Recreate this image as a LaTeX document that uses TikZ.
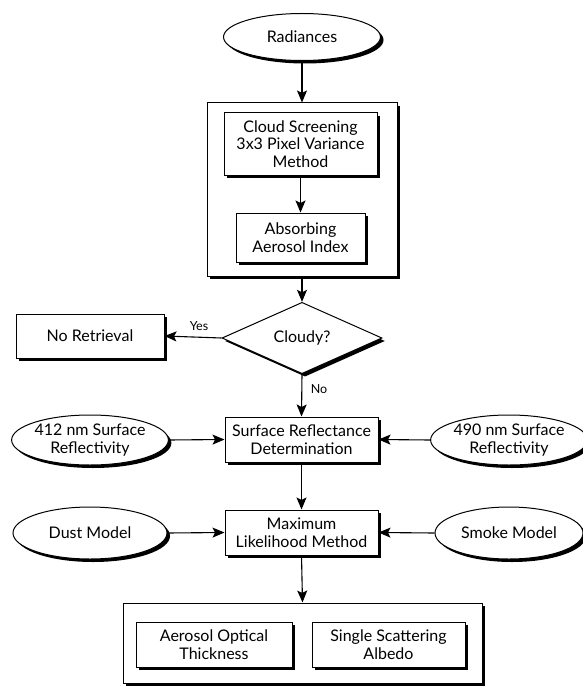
\documentclass[tikz,border=0pt]{standalone}
\usepackage{fontspec}
\setmainfont{Lato}
\usetikzlibrary{shapes.geometric,shadows,arrows.meta}
\tikzset{
  shd/.style={drop shadow={shadow xshift=3pt,shadow yshift=-3pt,fill=black,opacity=1}},
  base/.style={draw=black,line width=1pt,fill=white,inner sep=0pt,align=center,
    font=\fontsize{16}{17.5}\selectfont,shd},
  box/.style={base,rectangle},
  oval/.style={base,ellipse},
  dia/.style={base,diamond},
  lbl/.style={inner sep=0pt,font=\fontsize{12.5}{14}\selectfont},
  arr/.style={line width=1.1pt,-{Stealth[length=12pt,width=10pt,inset=2.5pt]}},
  ln/.style={line width=1pt}
}
\begin{document}
\begin{tikzpicture}[x=1pt,y=-1pt]
\useasboundingbox (0,0) rectangle (582,687);
\node[oval,minimum width=157pt,minimum height=47pt] (rad) at (302,37) {Radiances};
\node[box,minimum width=190pt,minimum height=173pt] (outer1) at (302,189.5) {};
\node[box,minimum width=153pt,minimum height=62pt] (cs) at (300.5,144) {Cloud Screening\\3x3 Pixel Variance\\Method};
\node[box,minimum width=129pt,minimum height=49pt] (aai) at (300.5,237.5) {Absorbing\\Aerosol Index};
\node[dia,minimum width=160pt,minimum height=59pt] (cloudy) at (302,338) {Cloudy?};
\node[box,minimum width=148pt,minimum height=44pt] (noret) at (90,336) {No Retrieval};
\node[oval,minimum width=154pt,minimum height=50pt] (r412) at (90,440) {412 nm Surface\\Reflectivity};
\node[box,minimum width=153pt,minimum height=45pt] (srd) at (301.5,439.5) {Surface Reflectance\\Determination};
\node[oval,minimum width=148pt,minimum height=50pt] (r490) at (509,440) {490 nm Surface\\Reflectivity};
\node[oval,minimum width=154pt,minimum height=52pt] (dust) at (90,533) {Dust Model};
\node[box,minimum width=153pt,minimum height=45pt] (mlm) at (301.5,532.5) {Maximum\\Likelihood Method};
\node[oval,minimum width=148pt,minimum height=52pt] (smoke) at (509,533) {Smoke Model};
\node[box,minimum width=359pt,minimum height=80pt] (outer2) at (302.5,643) {};
\node[box,minimum width=156pt,minimum height=45pt] (aot) at (214,644.5) {Aerosol Optical\\Thickness};
\node[box,minimum width=153pt,minimum height=45pt] (ssa) at (388.5,644.5) {Single Scattering\\Albedo};
\node[lbl] (yes) at (199,326) {Yes};
\node[lbl] (no) at (319,389) {No};
\draw[arr] (rad.south) -- (outer1.north);
\draw[arr] (cs.south) -- (aai.north);
\draw[arr] (outer1.south) -- (cloudy.north);
\draw[arr] (cloudy.west) -- (noret.east);
\draw[arr] (cloudy.south) -- (srd.north);
\draw[arr] (r412.east) -- (srd.west);
\draw[arr] (r490.west) -- (srd.east);
\draw[arr] (srd.south) -- (mlm.north);
\draw[arr] (dust.east) -- (mlm.west);
\draw[arr] (smoke.west) -- (mlm.east);
\draw[arr] (mlm.south) -- (outer2.north);
\end{tikzpicture}
\end{document}
